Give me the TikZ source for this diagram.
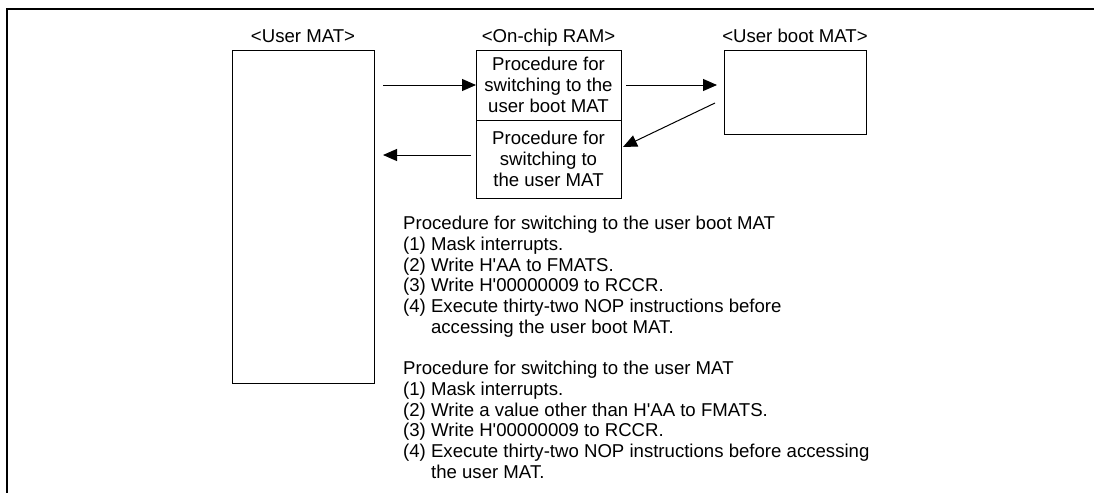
\documentclass[tikz,border=0pt]{standalone}
\usepackage{fontspec}
\setmainfont{Liberation Sans}
\usetikzlibrary{arrows.meta}

\tikzset{
  matbox/.style={draw, line width=1pt, inner sep=0pt, outer sep=0pt, anchor=north west},
  ramcell/.style={matbox, align=center},
  arr/.style={line width=1pt, -{Triangle[length=14pt,width=12pt]}},
  lbl/.style={anchor=base, inner sep=0pt},
  steps/.style={anchor=north west, inner sep=0pt, align=left},
}
\newcommand{\hq}{H\textquotesingle}

\begin{document}
\begin{tikzpicture}[x=1pt, y=-1pt, font=\fontsize{18.6}{20.7}\selectfont]
\useasboundingbox (0,0) rectangle (1094,493);

\draw[line width=2pt] (1094,9) -- (7,9) -- (7,493);

\node[matbox, minimum width=142pt, minimum height=333pt] (usermat) at (232,50) {};
\node[ramcell, minimum width=145pt, minimum height=70pt] (ramboot) at (476,50) {Procedure for\\switching to the\\user boot MAT};
\node[ramcell, minimum width=145pt, minimum height=78pt] (ramuser) at (476,120) {Procedure for\\switching to\\the user MAT};
\node[matbox, minimum width=142pt, minimum height=84pt] (bootmat) at (724,50) {};

\node[lbl] (lblusermat) at ([yshift=8pt]usermat.north) {<User MAT>};
\node[lbl] (lblram) at ([yshift=8pt]ramboot.north) {<On-chip RAM>};
\node[lbl] (lblbootmat) at ([yshift=8pt]bootmat.north) {<User boot MAT>};

\draw[arr, shorten <=9pt] (usermat.east |- ramboot.west) -- (ramboot.west);
\draw[arr, shorten <=5pt, shorten >=7pt] (ramboot.east) -- (ramboot.east -| bootmat.west);
\draw[arr] ([shift={(-9pt,-11pt)}]bootmat.west) -- ([shift={(2pt,12pt)}]ramuser.east);
\coordinate (retin) at ([yshift=4pt]ramuser.west);
\draw[arr, shorten <=5pt, shorten >=9pt] (retin) -- (retin -| usermat.east);

\node[steps] (stepsboot) at (403,216) {Procedure for switching to the user boot MAT\\
(1) Mask interrupts.\\
(2) Write \hq AA to FMATS.\\
(3) Write \hq 00000009 to RCCR.\\
(4) Execute thirty-two NOP instructions before\\
\hphantom{(4)\ }accessing the user boot MAT.};
\node[steps] (stepsuser) at (403,361) {Procedure for switching to the user MAT\\
(1) Mask interrupts.\\
(2) Write a value other than \hq AA to FMATS.\\
(3) Write \hq 00000009 to RCCR.\\
(4) Execute thirty-two NOP instructions before accessing\\
\hphantom{(4)\ }the user MAT.};

\end{tikzpicture}
\end{document}
